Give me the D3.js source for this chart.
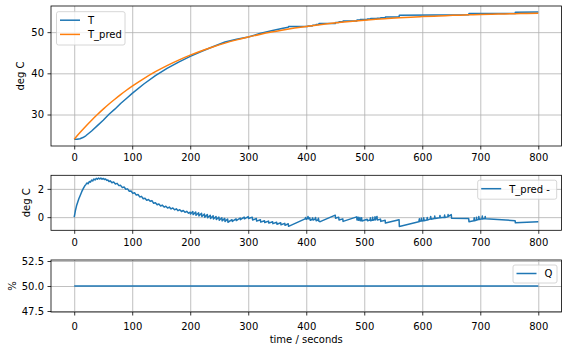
<!DOCTYPE html>
<meta charset="utf-8">
<html>
<head>
<script src="https://d3js.org/d3.v7.min.js"></script>
<style>
  body { margin: 0; background: #fff; }
  svg text { font-family: "DejaVu Sans", sans-serif; font-size: 10px; fill: #000; }
  .grid line { stroke: #b0b0b0; stroke-width: 0.8; }
  .grid path { display: none; }
  .ticks path { display: none; }
  .ticks line { stroke: #000; stroke-width: 0.8; }
</style>
</head>
<body>
<script>
// ---- data ----
const xTicks = [0, 100, 200, 300, 400, 500, 600, 700, 800];
const yTicksT = [30, 40, 50];
const yTicksD = [0, 2];
const yTicksQ = [47.5, 50, 52.5];

// measured temperature T [time, deg C]
const T = [
  [0,24.0],[5,24.0],[10,24.12],[15,24.4],[20,24.83],[30,26.0],[40,27.3],[50,28.6],[60,30.05],
  [70,31.29],[80,32.66],[90,33.89],[100,35.14],[120,37.41],[140,39.43],[160,41.18],[180,42.72],
  [200,44.12],[220,45.35],[240,46.52],[260,47.59],[280,48.27],[300,48.84],[320,49.65],[340,50.32],
  [360,50.97],[369,51.18],[369.5,51.38],[402.5,51.38],[403,51.5],[410.5,51.5],[411,51.65],
  [416.5,51.65],[417,51.85],[421.5,51.85],[422,52.1],[450,52.1],[450.5,52.32],[456,52.32],
  [456.5,52.5],[463,52.5],[463.5,52.72],[487,52.72],[487.5,52.92],[492.5,52.92],[493,53.05],
  [505,53.1],[505.5,53.18],[510.5,53.18],[511,53.3],[522,53.36],[522.5,53.4],[528,53.4],
  [528.5,53.5],[536,53.5],[536.5,53.7],[560,53.7],[560.5,54.13],[680,54.2],[680.5,54.52],
  [760,54.52],[760.5,54.86],[800,54.88]
];

// predicted temperature T_pred [time, deg C]
const TPred = [
  [0,24.0],[10,25.62],[20,27.16],[30,28.62],[40,30.0],[50,31.3],[60,32.55],[70,33.71],[80,34.83],
  [90,35.89],[100,36.89],[120,38.74],[140,40.40],[160,41.88],[180,43.22],[200,44.42],[220,45.50],
  [240,46.47],[260,47.34],[280,48.12],[300,48.82],[320,49.45],[340,50.02],[360,50.52],[380,50.98],
  [400,51.39],[420,51.76],[440,52.09],[460,52.39],[480,52.65],[500,52.89],[520,53.11],[540,53.30],
  [560,53.47],[580,53.63],[600,53.77],[620,53.89],[640,54.01],[660,54.11],[680,54.20],[700,54.28],
  [720,54.35],[740,54.42],[760,54.48],[780,54.53],[800,54.58]
];

// T_pred - T [time, deg C]
const diff = [
  [0,0],[2,0.45],[4,0.8],[6,1.05],[8,1.3],[10,1.5],[13,1.8],[16,2.05],[18,2.2],[20,2.3],[22,2.42],
  [24,2.36],[26,2.52],[28,2.47],[30,2.62],[32,2.56],[34,2.7],[36,2.63],[38,2.74],[40,2.68],[42,2.77],
  [44,2.7],[46,2.76],[48,2.68],[50,2.74],[52,2.66],[54,2.7],[56,2.6],[58,2.63],[60,2.52],
  [62,2.57],[65,2.43],[68,2.49],[71,2.35],[74,2.39],[77,2.23],[80,2.25],[83,2.09],[86,2.13],
  [89,1.97],[92,2.0],[95,1.83],[98,1.85],[101,1.68],[104,1.72],[107,1.56],[110,1.6],[113,1.43],
  [116,1.47],[119,1.3],[122,1.34],[125,1.19],[128,1.25],[131,1.12],[134,1.17],[137,0.98],
  [140,1.02],[143,0.88],[146,0.93],[149,0.79],[152,0.85],[155,0.71],[158,0.77],[161,0.64],
  [164,0.71],[167,0.58],[170,0.65],[173,0.52],[176,0.59],[179,0.46],[182,0.53],[185,0.40],
  [188,0.47],[191,0.34],[194,0.41],[197,0.28],[200,0.35],
  [200.5,0.22],[204.5,0.40],[205,0.18],[209.5,0.36],[210,0.13],[214.5,0.31],[215,0.09],
  [219.5,0.27],[220,0.05],[224.5,0.22],[225,0.0],[229.5,0.18],[230,-0.04],[234.5,0.14],
  [235,-0.09],[239.5,0.09],[240,-0.13],[244.5,0.05],[245,-0.17],[249.5,0.0],[250,-0.22],
  [254.5,-0.04],[255,-0.26],[259.5,-0.09],[260,-0.30],[264.5,-0.13],[265,-0.36],[272,-0.18],
  [272.5,-0.3],[279,-0.12],[279.5,-0.24],[286,-0.06],[286.5,-0.18],[293,0.0],[293.5,-0.12],
  [300,0.04],[300.5,-0.1],
  [307,0.0],[307.5,-0.2],[314,-0.1],[314.5,-0.28],[321,-0.18],[321.5,-0.35],[328,-0.25],
  [328.5,-0.38],[335,-0.28],[335.5,-0.42],[342,-0.32],[342.5,-0.46],[349,-0.36],[349.5,-0.5],
  [356,-0.4],[356.5,-0.54],[363,-0.44],[363.5,-0.58],[369,-0.47],[369.5,-0.65],
  [398,-0.12],[399,-0.02],[400,-0.15],[402,-0.1],[403,0.05],[404,-0.12],[406,-0.05],[407,-0.22],
  [410,-0.17],[411,-0.05],[412,-0.2],[415,-0.14],[416,-0.02],[417,-0.25],[420,-0.2],[421,-0.08],
  [422,-0.3],[424,-0.32],[450,0.14],[450.5,-0.08],[456,0.0],[456.5,-0.2],[463,-0.12],[463.5,-0.3],
  [487,0.02],[487.5,-0.2],[489,-0.17],[489.5,0.0],[490,-0.22],[492,-0.18],[492.5,-0.02],[493,-0.25],
  [495,-0.22],[495.5,-0.05],[496,-0.27],[505,-0.15],[505.5,-0.25],[510,-0.2],[510.5,-0.05],
  [511,-0.25],[514,-0.2],[514.5,0.0],[515,-0.22],[518,-0.17],[518.5,0.02],[519,-0.2],[522,0.05],
  [522.5,-0.2],[528,-0.14],[528.5,-0.3],[536,-0.22],[536.5,-0.42],[560,-0.18],[560.5,-0.66],
  [594,-0.33],[595,-0.12],[595.5,-0.3],[598,-0.27],[598.5,-0.08],[599,-0.28],[602,-0.25],
  [602.5,-0.05],[603,-0.25],[608,-0.2],[608.5,-0.02],[609,-0.2],[614,-0.12],[614.5,0.05],
  [615,-0.15],[621,-0.1],[621.5,0.08],[622,-0.1],[630,-0.05],[630.5,0.12],[631,-0.05],[638,0.0],
  [638.5,0.15],[639,-0.02],[644,0.02],[644.5,0.18],[645,0.05],[650,0.18],[650.5,-0.08],[680,-0.1],
  [680.5,-0.32],[689,-0.25],[689.5,-0.05],[690,-0.25],[693,-0.22],[693.5,0.0],[694,-0.2],
  [697,-0.17],[697.5,0.05],[698,-0.17],[703,-0.12],[703.5,0.08],[704,-0.13],[708,-0.1],
  [708.5,0.05],[709,-0.12],[760,-0.25],[760.5,-0.4],[800,-0.32]
];

// heater output Q [time, %]
const Q = [[0, 50], [800, 50]];

// ---- layout ----
const W = 568, H = 352;
const left = 51, right = 561.5;
const blue = "#1f77b4", orange = "#ff7f0e";

const svg = d3.select("body").append("svg")
  .attr("width", W).attr("height", H);

const x = d3.scaleLinear().domain([-40, 840]).range([left, right]);

const panels = [
  { top: 6, bottom: 146, domain: [22.35, 56.35], yTicks: yTicksT, fmt: d3.format("d"),
    ylabel: "deg C", ylabelX: 24, xpad: 3.9,
    series: [{ data: T, color: blue, name: "T", curve: d3.curveLinear },
             { data: TPred, color: orange, name: "T_pred", curve: d3.curveMonotoneX }],
    legend: { x: 56.5, y: 11.7, w: 68.5, h: 33.3 } },
  { top: 175.3, bottom: 230.3, domain: [-0.93, 2.96], yTicks: yTicksD, fmt: d3.format("d"),
    ylabel: "deg C", ylabelX: 30, xpad: 5,
    series: [{ data: diff, color: blue, name: "T_pred -", curve: d3.curveLinear }],
    legend: { x: 477.7, y: 180.2, w: 79, h: 19 } },
  { top: 260, bottom: 312, domain: [47.4, 52.6], yTicks: yTicksQ, fmt: d3.format(".1f"),
    ylabel: "%", ylabelX: 15.5, xpad: 7.2,
    series: [{ data: Q, color: blue, name: "Q", curve: d3.curveLinear }],
    legend: { x: 513, y: 265, w: 44, h: 18 } }
];

panels.forEach(p => {
  const y = d3.scaleLinear().domain(p.domain).range([p.bottom, p.top]);
  const g = svg.append("g");
  const h = p.bottom - p.top;

  // grid
  g.append("g").attr("class", "grid")
    .attr("transform", `translate(0,${p.bottom})`)
    .call(d3.axisBottom(x).tickValues(xTicks).tickSize(-h).tickFormat(""));
  g.append("g").attr("class", "grid")
    .attr("transform", `translate(${left},0)`)
    .call(d3.axisLeft(y).tickValues(p.yTicks).tickSize(-(right - left)).tickFormat(""));

  // lines
  p.series.forEach(s => {
    g.append("path")
      .datum(s.data)
      .attr("fill", "none")
      .attr("stroke", s.color)
      .attr("stroke-width", 1.5)
      .attr("stroke-linejoin", "round")
      .attr("d", d3.line().x(d => x(d[0])).y(d => y(d[1])).curve(s.curve));
  });

  // frame
  g.append("rect")
    .attr("x", left).attr("y", p.top)
    .attr("width", right - left).attr("height", h)
    .attr("fill", "none").attr("stroke", "#000").attr("stroke-width", 0.8);

  // ticks + labels
  g.append("g").attr("class", "ticks")
    .attr("transform", `translate(0,${p.bottom})`)
    .call(d3.axisBottom(x).tickValues(xTicks).tickSize(3.5).tickPadding(p.xpad).tickFormat(d3.format("d")));
  g.append("g").attr("class", "ticks")
    .attr("transform", `translate(${left},0)`)
    .call(d3.axisLeft(y).tickValues(p.yTicks).tickSize(3.5).tickPadding(3.5).tickFormat(p.fmt));
  g.selectAll(".ticks text").attr("fill", "#000").style("font-size", "10px")
    .style("font-family", "DejaVu Sans, sans-serif");

  // y label
  g.append("text")
    .attr("transform", `translate(${p.ylabelX},${(p.top + p.bottom) / 2}) rotate(-90)`)
    .attr("text-anchor", "middle")
    .text(p.ylabel);

  // legend
  const L = p.legend;
  const lg = g.append("g");
  lg.append("rect")
    .attr("x", L.x).attr("y", L.y).attr("width", L.w).attr("height", L.h)
    .attr("rx", 2)
    .attr("fill", "#fff").attr("fill-opacity", 0.8)
    .attr("stroke", "#cccccc").attr("stroke-width", 0.8);
  p.series.forEach((s, i) => {
    const cy = L.y + 8.5 + i * 14.2;
    lg.append("line")
      .attr("x1", L.x + 3.5).attr("x2", L.x + 23.5)
      .attr("y1", cy).attr("y2", cy)
      .attr("stroke", s.color).attr("stroke-width", 1.5);
    lg.append("text")
      .attr("x", L.x + 31.5).attr("y", cy + 3.8)
      .text(s.name);
  });
});

// x label
svg.append("text")
  .attr("x", (left + right) / 2).attr("y", 342.5)
  .attr("text-anchor", "middle")
  .text("time / seconds");
</script>
</body>
</html>
